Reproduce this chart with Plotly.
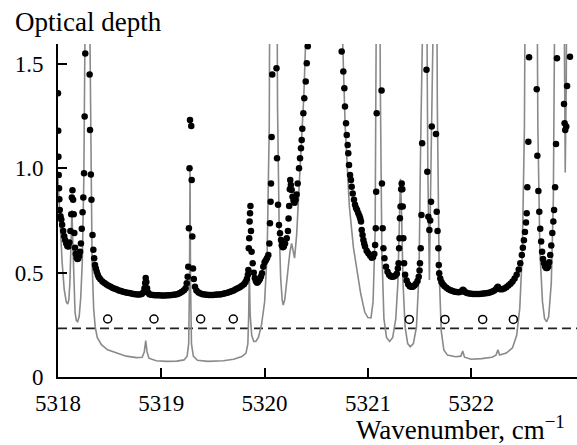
import plotly.graph_objects as go

# ---------------- data ----------------
gray_x = [5318.000, 5318.020, 5318.040, 5318.060, 5318.080, 5318.094, 5318.105, 5318.115, 5318.125, 5318.135,
          5318.145, 5318.155, 5318.165, 5318.178, 5318.190, 5318.205, 5318.220, 5318.235, 5318.250, 5318.262,
          5318.272, 5318.300, 5318.308, 5318.318, 5318.330, 5318.345, 5318.360, 5318.380, 5318.420, 5318.480,
          5318.560, 5318.660, 5318.760, 5318.815, 5318.835, 5318.849, 5318.862, 5318.880, 5318.950, 5319.050,
          5319.150, 5319.220, 5319.250, 5319.265, 5319.273, 5319.278, 5319.283, 5319.292, 5319.310, 5319.350,
          5319.450, 5319.600, 5319.700, 5319.780, 5319.820, 5319.838, 5319.846, 5319.852, 5319.860, 5319.875,
          5319.895, 5319.915, 5319.940, 5319.970, 5320.000, 5320.025, 5320.045, 5320.055, 5320.115, 5320.125,
          5320.140, 5320.155, 5320.170, 5320.180, 5320.195, 5320.220, 5320.245, 5320.262, 5320.275, 5320.290,
          5320.310, 5320.340, 5320.380, 5320.410, 5320.430, 5320.730, 5320.750, 5320.780, 5320.820, 5320.860,
          5320.890, 5320.900, 5320.930, 5320.970, 5321.000, 5321.030, 5321.050, 5321.070, 5321.080, 5321.090,
          5321.110, 5321.120, 5321.135, 5321.155, 5321.180, 5321.210, 5321.240, 5321.270, 5321.290, 5321.305,
          5321.315, 5321.325, 5321.340, 5321.360, 5321.385, 5321.410, 5321.440, 5321.470, 5321.495, 5321.510,
          5321.520, 5321.560, 5321.580, 5321.595, 5321.610, 5321.625, 5321.660, 5321.672, 5321.690, 5321.710,
          5321.735, 5321.770, 5321.850, 5321.900, 5321.918, 5321.935, 5322.000, 5322.100, 5322.200, 5322.240,
          5322.258, 5322.275, 5322.340, 5322.400, 5322.440, 5322.470, 5322.495, 5322.515, 5322.530, 5322.630,
          5322.645, 5322.665, 5322.690, 5322.710, 5322.730, 5322.750, 5322.775, 5322.795, 5322.810, 5322.820,
          5322.890, 5322.900, 5322.910, 5322.920, 5322.930, 5323.030]
gray_y = [0.95, 0.72, 0.55, 0.42, 0.36, 0.35, 0.37, 0.45, 0.62, 0.80,
          0.62, 0.42, 0.31, 0.27, 0.265, 0.29, 0.38, 0.55, 0.95, 1.7,
          2.6, 2.6, 1.7, 0.95, 0.55, 0.33, 0.24, 0.19, 0.155, 0.13,
          0.115, 0.10, 0.093, 0.095, 0.12, 0.175, 0.12, 0.09, 0.078, 0.075,
          0.076, 0.082, 0.10, 0.16, 0.45, 1.00, 0.45, 0.16, 0.10, 0.08,
          0.075, 0.078, 0.085, 0.098, 0.115, 0.16, 0.30, 0.50, 0.30, 0.20,
          0.17, 0.17, 0.19, 0.25, 0.36, 0.60, 1.20, 2.6, 2.6, 1.3,
          0.75, 0.48, 0.37, 0.345, 0.37, 0.48, 0.60, 0.64, 0.60, 0.57,
          0.68, 0.95, 1.35, 1.8, 2.6, 2.6, 1.7, 1.2, 0.82, 0.62,
          0.53, 0.51, 0.40, 0.31, 0.285, 0.283, 0.36, 0.70, 1.6, 2.6,
          2.6, 1.4, 0.6, 0.28, 0.19, 0.17, 0.19, 0.28, 0.45, 0.80,
          0.95, 0.80, 0.45, 0.24, 0.16, 0.145, 0.16, 0.24, 0.50, 1.1,
          2.6, 2.6, 1.0, 0.465, 1.0, 2.6, 2.6, 1.3, 0.50, 0.22,
          0.13, 0.105, 0.097, 0.10, 0.125, 0.095, 0.085, 0.088, 0.095, 0.105,
          0.13, 0.105, 0.115, 0.14, 0.20, 0.33, 0.60, 1.2, 2.6, 2.6,
          1.2, 0.60, 0.36, 0.28, 0.265, 0.29, 0.45, 0.85, 1.6, 2.6,
          2.6, 1.4, 0.98, 1.4, 2.6, 2.6]

dots_a = [(5318.000, 1.36), (5318.002, 1.18), (5318.004, 1.056), (5318.007, 0.968), (5318.010, 0.905),
          (5318.013, 0.852), (5318.017, 0.80), (5318.024, 0.77), (5318.032, 0.755), (5318.040, 0.73),
          (5318.050, 0.70), (5318.060, 0.675), (5318.070, 0.655), (5318.080, 0.64), (5318.090, 0.628),
          (5318.100, 0.625), (5318.110, 0.645), (5318.120, 0.70), (5318.128, 0.78), (5318.134, 0.86),
          (5318.140, 0.895), (5318.146, 0.85), (5318.152, 0.78), (5318.158, 0.69), (5318.165, 0.62),
          (5318.172, 0.59), (5318.180, 0.572), (5318.188, 0.565), (5318.196, 0.568), (5318.205, 0.58),
          (5318.214, 0.60), (5318.222, 0.64), (5318.230, 0.71), (5318.238, 0.79), (5318.245, 0.86),
          (5318.252, 0.977), (5318.258, 1.248), (5318.264, 1.55),
          (5318.306, 1.45), (5318.310, 1.184), (5318.318, 0.97), (5318.324, 0.85), (5318.334, 0.68),
          (5318.342, 0.61), (5318.350, 0.569), (5318.358, 0.537), (5318.366, 0.52), (5318.375, 0.505),
          (5318.385, 0.49), (5318.395, 0.478)]
dots_b = [(5318.41, 0.468), (5318.43, 0.458), (5318.45, 0.45), (5318.47, 0.443), (5318.49, 0.437),
          (5318.51, 0.432), (5318.53, 0.427), (5318.55, 0.423), (5318.57, 0.419), (5318.59, 0.415),
          (5318.61, 0.412), (5318.63, 0.409), (5318.65, 0.406), (5318.67, 0.404), (5318.69, 0.402),
          (5318.71, 0.40), (5318.73, 0.398), (5318.75, 0.397), (5318.77, 0.396), (5318.79, 0.396),
          (5318.81, 0.398), (5318.825, 0.405), (5318.837, 0.425), (5318.844, 0.45), (5318.849, 0.475),
          (5318.855, 0.455), (5318.862, 0.425), (5318.872, 0.405), (5318.885, 0.397), (5318.90, 0.394),
          (5318.92, 0.393), (5318.94, 0.392), (5318.96, 0.392), (5318.98, 0.392), (5319.00, 0.391),
          (5319.02, 0.391), (5319.04, 0.391), (5319.06, 0.392), (5319.08, 0.392), (5319.10, 0.393),
          (5319.12, 0.394), (5319.14, 0.396), (5319.16, 0.398), (5319.18, 0.402), (5319.20, 0.408),
          (5319.22, 0.416), (5319.235, 0.425), (5319.246, 0.449), (5319.255, 0.48), (5319.261, 0.529),
          (5319.267, 0.713), (5319.273, 1.0), (5319.278, 1.232), (5319.290, 1.203), (5319.294, 0.944),
          (5319.300, 0.673), (5319.307, 0.52), (5319.315, 0.47), (5319.326, 0.433), (5319.34, 0.415)]
dots_c = [(5319.36, 0.405), (5319.38, 0.40), (5319.40, 0.397), (5319.42, 0.395), (5319.44, 0.394),
          (5319.46, 0.393), (5319.48, 0.393), (5319.50, 0.393), (5319.52, 0.394), (5319.54, 0.395),
          (5319.56, 0.396), (5319.58, 0.397), (5319.60, 0.399), (5319.62, 0.401), (5319.64, 0.404),
          (5319.66, 0.407), (5319.68, 0.411), (5319.70, 0.415), (5319.72, 0.42), (5319.74, 0.425),
          (5319.76, 0.43), (5319.78, 0.437), (5319.80, 0.445), (5319.815, 0.455), (5319.828, 0.47),
          (5319.838, 0.49), (5319.843, 0.513), (5319.847, 0.617), (5319.851, 0.665), (5319.855, 0.745),
          (5319.859, 0.785), (5319.863, 0.82), (5319.868, 0.70), (5319.874, 0.60), (5319.885, 0.545),
          (5319.895, 0.50), (5319.905, 0.475), (5319.915, 0.46), (5319.925, 0.452), (5319.935, 0.455),
          (5319.945, 0.462), (5319.955, 0.47), (5319.965, 0.482), (5319.975, 0.497), (5319.987, 0.529),
          (5320.000, 0.55), (5320.012, 0.56), (5320.024, 0.57), (5320.036, 0.585), (5320.046, 0.64),
          (5320.052, 0.737), (5320.058, 0.84), (5320.062, 0.928), (5320.068, 1.15), (5320.074, 1.45)]
dots_d = [(5320.115, 1.48), (5320.120, 1.048), (5320.130, 0.825), (5320.139, 0.729), (5320.149, 0.689),
          (5320.159, 0.657), (5320.166, 0.632), (5320.176, 0.622), (5320.186, 0.625), (5320.198, 0.64),
          (5320.214, 0.665), (5320.226, 0.70), (5320.232, 0.76), (5320.238, 0.82), (5320.244, 0.90),
          (5320.248, 0.944), (5320.254, 0.92), (5320.262, 0.896), (5320.270, 0.864), (5320.280, 0.845),
          (5320.290, 0.835), (5320.300, 0.85), (5320.310, 0.875), (5320.320, 0.928), (5320.333, 1.0),
          (5320.343, 1.048), (5320.352, 1.096), (5320.359, 1.136), (5320.365, 1.19), (5320.375, 1.264),
          (5320.384, 1.336), (5320.398, 1.416), (5320.408, 1.504), (5320.418, 1.585)]
dots_e = [(5320.746, 1.56), (5320.762, 1.464), (5320.772, 1.384), (5320.778, 1.296), (5320.788, 1.216),
          (5320.795, 1.16), (5320.804, 1.112), (5320.810, 1.072), (5320.817, 1.016), (5320.827, 0.968),
          (5320.836, 0.944), (5320.843, 0.912), (5320.853, 0.88), (5320.865, 0.849), (5320.875, 0.825),
          (5320.885, 0.81), (5320.895, 0.80), (5320.907, 0.785), (5320.918, 0.772), (5320.926, 0.76),
          (5320.933, 0.745), (5320.940, 0.705), (5320.948, 0.68), (5320.956, 0.657), (5320.964, 0.64),
          (5320.972, 0.625), (5320.988, 0.605), (5321.004, 0.593), (5321.020, 0.582), (5321.037, 0.572),
          (5321.050, 0.575), (5321.062, 0.59), (5321.070, 0.633), (5321.076, 0.713), (5321.080, 0.888),
          (5321.085, 1.264), (5321.132, 1.373), (5321.136, 0.928), (5321.143, 0.713), (5321.150, 0.617),
          (5321.160, 0.569), (5321.175, 0.529), (5321.190, 0.505), (5321.205, 0.49), (5321.220, 0.483),
          (5321.235, 0.48), (5321.250, 0.482), (5321.265, 0.486), (5321.280, 0.495), (5321.290, 0.52),
          (5321.297, 0.545), (5321.302, 0.617), (5321.306, 0.665), (5321.310, 0.761), (5321.316, 0.817),
          (5321.322, 0.90), (5321.327, 0.928), (5321.333, 0.90), (5321.337, 0.817), (5321.343, 0.665),
          (5321.350, 0.545), (5321.360, 0.49), (5321.375, 0.462), (5321.390, 0.445), (5321.405, 0.435),
          (5321.420, 0.432), (5321.435, 0.433), (5321.450, 0.438), (5321.465, 0.447), (5321.480, 0.46),
          (5321.492, 0.48), (5321.500, 0.51), (5321.504, 0.545), (5321.511, 0.617), (5321.518, 0.777),
          (5321.525, 1.12), (5321.567, 1.472), (5321.575, 0.984), (5321.585, 0.768), (5321.595, 0.705),
          (5321.603, 0.75), (5321.611, 0.84), (5321.618, 1.2), (5321.659, 1.165), (5321.666, 0.792),
          (5321.674, 0.70), (5321.682, 0.617), (5321.686, 0.537), (5321.690, 0.497)]
dots_f = [(5321.700, 0.472), (5321.712, 0.455), (5321.725, 0.445), (5321.74, 0.436), (5321.76, 0.428),
          (5321.78, 0.421), (5321.80, 0.416), (5321.82, 0.412), (5321.84, 0.409), (5321.86, 0.407),
          (5321.88, 0.406), (5321.90, 0.408), (5321.912, 0.413), (5321.92, 0.418), (5321.93, 0.413),
          (5321.945, 0.406), (5321.96, 0.402), (5321.98, 0.40), (5322.00, 0.399), (5322.02, 0.398),
          (5322.04, 0.398), (5322.06, 0.398), (5322.08, 0.398), (5322.10, 0.399), (5322.12, 0.40),
          (5322.14, 0.401), (5322.16, 0.403), (5322.18, 0.405), (5322.20, 0.408), (5322.22, 0.413),
          (5322.24, 0.42), (5322.25, 0.428), (5322.258, 0.432), (5322.268, 0.425), (5322.28, 0.42),
          (5322.30, 0.42), (5322.32, 0.424), (5322.34, 0.43), (5322.36, 0.438), (5322.38, 0.447),
          (5322.40, 0.458), (5322.42, 0.472), (5322.44, 0.49), (5322.46, 0.515), (5322.475, 0.545),
          (5322.49, 0.585), (5322.50, 0.62), (5322.51, 0.655), (5322.52, 0.695), (5322.53, 0.74),
          (5322.537, 0.785), (5322.543, 0.909), (5322.553, 1.128), (5322.560, 1.532)]
dots_g = [(5322.634, 1.379), (5322.640, 1.06), (5322.650, 0.892), (5322.659, 0.792), (5322.668, 0.71),
          (5322.677, 0.65), (5322.686, 0.60), (5322.695, 0.565), (5322.705, 0.545), (5322.715, 0.53),
          (5322.725, 0.522), (5322.735, 0.522), (5322.745, 0.53), (5322.755, 0.55), (5322.765, 0.585),
          (5322.775, 0.63), (5322.785, 0.69), (5322.795, 0.745), (5322.802, 0.80), (5322.812, 0.909),
          (5322.821, 1.117), (5322.830, 1.528), (5322.898, 1.309), (5322.904, 1.216), (5322.910, 1.184),
          (5322.920, 1.20), (5322.928, 1.395), (5322.956, 1.535)]

circle_x = [5318.481, 5318.929, 5319.381, 5319.697, 5321.401, 5321.746, 5322.111, 5322.408]
circle_y = [0.278, 0.278, 0.278, 0.278, 0.276, 0.276, 0.276, 0.276]

dash_x = [5318.0, 5323.03]
dash_y = [0.233, 0.233]

x_ticks = [5318, 5319, 5320, 5321, 5322]
x_ticktext = ["5318", "5319", "5320", "5321", "5322"]
y_ticks = [0, 0.5, 1.0, 1.5]
y_ticktext = ["0", "0.5", "1.0", "1.5"]

# ---------------- figure ----------------
all_dots = dots_a + dots_b + dots_c + dots_d + dots_e + dots_f + dots_g
dot_x = [p[0] for p in all_dots]
dot_y = [p[1] for p in all_dots]

FONT = "Liberation Serif, Times New Roman, serif"

fig = go.Figure()
fig.add_trace(go.Scatter(x=dash_x, y=dash_y, mode="lines",
                         line=dict(color="#222222", width=1.6, dash="9px,5px"),
                         hoverinfo="skip", showlegend=False))
fig.add_trace(go.Scatter(x=gray_x, y=gray_y, mode="lines",
                         line=dict(color="#8a8a8a", width=1.6),
                         showlegend=False))
fig.add_trace(go.Scatter(x=dot_x, y=dot_y, mode="markers",
                         marker=dict(color="black", size=6.5),
                         showlegend=False))
fig.add_trace(go.Scatter(x=circle_x, y=circle_y, mode="markers",
                         marker=dict(symbol="circle-open", color="black", size=8,
                                     line=dict(width=1.5, color="black")),
                         showlegend=False))

fig.update_layout(
    width=577, height=445,
    margin=dict(l=58, r=0, t=44, b=68, autoexpand=False),
    paper_bgcolor="white", plot_bgcolor="white",
    font=dict(family=FONT, size=23, color="black"),
    xaxis=dict(range=[5318, 5323.024], showgrid=False, zeroline=False,
               showline=True, linecolor="black", linewidth=2,
               ticks="inside", ticklen=9, tickwidth=2, tickcolor="black",
               tickvals=x_ticks, ticktext=x_ticktext, ticklabelstandoff=4,
               automargin=False),
    yaxis=dict(range=[0, 1.596], showgrid=False, zeroline=False,
               showline=True, linecolor="black", linewidth=2,
               ticks="inside", ticklen=9, tickwidth=2, tickcolor="black",
               tickvals=y_ticks, ticktext=y_ticktext, ticklabelstandoff=8,
               automargin=False),
    annotations=[
        dict(text="Optical depth", xref="paper", yref="paper",
             x=(13 - 58) / 519, y=(377 - 22) / 333, xanchor="left", yanchor="middle",
             showarrow=False, font=dict(family=FONT, size=27, color="black")),
        dict(text="Wavenumber, cm<sup>\u22121</sup>", xref="paper", yref="paper",
             x=(567 - 58) / 519, y=(377 - 428) / 333, xanchor="right", yanchor="middle",
             showarrow=False, font=dict(family=FONT, size=27, color="black")),
    ],
)

fig.write_html("out.html", config={"displayModeBar": False})

# remove the browser's default body margin so the figure sits at the page origin
with open("out.html", "r", encoding="utf-8") as fh:
    html = fh.read()
html = html.replace("<body>", '<body style="margin:0;padding:0;overflow:hidden">', 1)
with open("out.html", "w", encoding="utf-8") as fh:
    fh.write(html)
